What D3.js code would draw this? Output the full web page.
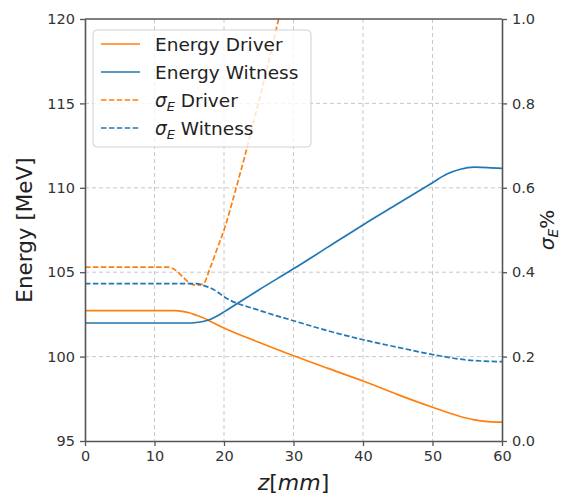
<!DOCTYPE html>
<html>
<head>
<meta charset="utf-8">
<script src="https://cdn.jsdelivr.net/npm/d3@7"></script>
<style>
  body { margin: 0; background: #fff; }
  svg text { font-family: "DejaVu Sans", sans-serif; }
</style>
</head>
<body>
<svg id="chart" width="564" height="495"></svg>
<script>
// values
const zDriver = [0, 13, 14, 15, 16, 17, 18, 20, 25, 30, 35, 40, 45, 50, 54, 56, 58, 60];
const energyDriver = [102.72, 102.72, 102.68, 102.6, 102.45, 102.3, 102.1, 101.7, 100.85, 100.05, 99.3, 98.55, 97.75, 97.0, 96.45, 96.25, 96.15, 96.12];

const zWitness = [0, 15, 16, 17, 18, 19, 20, 25, 30, 35, 40, 45, 50, 52, 54, 56, 58, 60];
const energyWitness = [101.99, 101.99, 102.02, 102.08, 102.2, 102.4, 102.65, 103.95, 105.2, 106.5, 107.8, 109.05, 110.3, 110.8, 111.1, 111.22, 111.2, 111.15];

const zSigmaDriver = [0, 12, 13, 14, 15, 16, 17, 18, 19, 20, 21, 22, 23, 24, 25, 26, 27, 28];
const sigmaDriver = [0.412, 0.412, 0.405, 0.39, 0.375, 0.369, 0.372, 0.41, 0.455, 0.50, 0.555, 0.615, 0.675, 0.74, 0.805, 0.87, 0.94, 1.01];

const zSigmaWitness = [0, 16, 17, 18, 19, 20, 25, 30, 35, 40, 45, 50, 55, 60];
const sigmaWitness = [0.373, 0.373, 0.369, 0.363, 0.354, 0.342, 0.31, 0.285, 0.261, 0.24, 0.222, 0.205, 0.192, 0.188];

const xTicks = [0, 10, 20, 30, 40, 50, 60];
const yTicks = [95, 100, 105, 110, 115, 120];
const y2Ticks = [0.0, 0.2, 0.4, 0.6, 0.8, 1.0];

const orange = "#ff7f0e", blue = "#1f77b4";

const margin = {top: 19, right: 62, bottom: 54, left: 85},
    width = 564 - margin.left - margin.right,
    height = 495 - margin.top - margin.bottom;

const svg = d3.select("#chart");

const g = svg.append("g")
    .attr("transform", "translate(" + margin.left + "," + margin.top + ")");

const x = d3.scaleLinear().domain([0, 60]).range([0, width]);
const y = d3.scaleLinear().domain([95, 120]).range([height, 0]);
const y2 = d3.scaleLinear().domain([0, 1]).range([height, 0]);

// grid
g.append("g").selectAll("line.gx")
    .data(xTicks.slice(1, -1))
    .enter().append("line")
    .attr("x1", d => x(d)).attr("x2", d => x(d))
    .attr("y1", 0).attr("y2", height)
    .attr("stroke", "#c8c8c8").attr("stroke-width", 1).attr("stroke-dasharray", "4,3");

g.append("g").selectAll("line.gy")
    .data(yTicks.slice(1, -1))
    .enter().append("line")
    .attr("x1", 0).attr("x2", width)
    .attr("y1", d => y(d)).attr("y2", d => y(d))
    .attr("stroke", "#c8c8c8").attr("stroke-width", 1).attr("stroke-dasharray", "4,3");

// clip
svg.append("defs").append("clipPath").attr("id", "plotclip")
    .append("rect").attr("width", width).attr("height", height);

const lines = g.append("g").attr("clip-path", "url(#plotclip)");

const lineE = d3.line().curve(d3.curveMonotoneX).x(d => x(d[0])).y(d => y(d[1]));
const lineS = d3.line().curve(d3.curveMonotoneX).x(d => x(d[0])).y(d => y2(d[1]));

lines.append("path")
    .datum(d3.zip(zDriver, energyDriver))
    .attr("d", lineE).attr("fill", "none").attr("stroke", orange).attr("stroke-width", 1.7);

lines.append("path")
    .datum(d3.zip(zWitness, energyWitness))
    .attr("d", lineE).attr("fill", "none").attr("stroke", blue).attr("stroke-width", 1.7);

lines.append("path")
    .datum(d3.zip(zSigmaDriver, sigmaDriver))
    .attr("d", lineS).attr("fill", "none").attr("stroke", orange).attr("stroke-width", 1.7)
    .attr("stroke-dasharray", "5.5,2.4");

lines.append("path")
    .datum(d3.zip(zSigmaWitness, sigmaWitness))
    .attr("d", lineS).attr("fill", "none").attr("stroke", blue).attr("stroke-width", 1.7)
    .attr("stroke-dasharray", "5.5,2.4");

// axes
const axisColor = "#555";
const bottomAxis = g.append("g")
    .attr("transform", "translate(0," + height + ")")
    .call(d3.axisBottom(x).tickValues(xTicks).tickSize(5).tickPadding(5).tickSizeOuter(0));
const leftAxis = g.append("g")
    .call(d3.axisLeft(y).tickValues(yTicks).tickSize(5).tickPadding(5).tickSizeOuter(0));
const rightAxis = g.append("g")
    .attr("transform", "translate(" + width + ",0)")
    .call(d3.axisRight(y2).tickValues(y2Ticks).tickFormat(d3.format(".1f")).tickSize(5).tickPadding(5).tickSizeOuter(0));

[bottomAxis, leftAxis, rightAxis].forEach(function(a) {
    a.selectAll("path").attr("stroke", axisColor).attr("stroke-width", 1.6);
    a.selectAll("line").attr("stroke", axisColor).attr("stroke-width", 1.3);
    a.selectAll("text").attr("fill", "#333").style("font-size", "14.5px")
        .style("font-family", "'DejaVu Sans', sans-serif");
});

// top spine
g.append("line").attr("x1", 0).attr("x2", width).attr("y1", 0).attr("y2", 0)
    .attr("stroke", axisColor).attr("stroke-width", 1.6);

// axis labels
svg.append("text")
    .attr("transform", "translate(32," + (margin.top + height / 2) + ") rotate(-90)")
    .attr("text-anchor", "middle")
    .attr("fill", "#222")
    .style("font-size", "21.5px")
    .text("Energy [MeV]");

const xl = svg.append("text")
    .attr("x", margin.left + width / 2)
    .attr("y", 490)
    .attr("text-anchor", "middle")
    .attr("fill", "#222")
    .style("font-size", "22px")
    .style("font-style", "italic");
xl.append("tspan").text("z");
xl.append("tspan").style("font-style", "normal").text("[");
xl.append("tspan").text("mm");
xl.append("tspan").style("font-style", "normal").text("]");

const yl2 = svg.append("text")
    .attr("transform", "translate(554," + (margin.top + height / 2) + ") rotate(-90)")
    .attr("text-anchor", "middle")
    .attr("fill", "#222")
    .style("font-size", "20px");
yl2.append("tspan").style("font-style", "italic").text("σ");
yl2.append("tspan").style("font-style", "italic").style("font-size", "14px").attr("dy", 4).text("E");
yl2.append("tspan").attr("dy", -4).text("%");

// legend
const legendItems = [
    {label: "Energy Driver", color: orange, dash: null, sigma: false},
    {label: "Energy Witness", color: blue, dash: null, sigma: false},
    {label: " Driver", color: orange, dash: "5.5,2.4", sigma: true},
    {label: " Witness", color: blue, dash: "5.5,2.4", sigma: true}
];

const legend = svg.append("g").attr("transform", "translate(93,30)");
legend.append("rect")
    .attr("width", 218).attr("height", 117).attr("rx", 4)
    .attr("fill", "#fff").attr("fill-opacity", 0.8)
    .attr("stroke", "#d0d0d0").attr("stroke-width", 1);

const item = legend.selectAll("g.item")
    .data(legendItems)
    .enter().append("g")
    .attr("class", "item")
    .attr("transform", (d, i) => "translate(0," + (14 + i * 28) + ")");

item.append("line")
    .attr("x1", 8).attr("x2", 47).attr("y1", 0).attr("y2", 0)
    .attr("stroke", d => d.color).attr("stroke-width", 1.7)
    .attr("stroke-dasharray", d => d.dash);

const itemText = item.append("text")
    .attr("x", 62).attr("y", 6.5)
    .attr("fill", "#222")
    .style("font-size", "18.5px");

itemText.each(function(d) {
    const t = d3.select(this);
    if (d.sigma) {
        t.append("tspan").style("font-style", "italic").text("σ");
        t.append("tspan").style("font-style", "italic").style("font-size", "13px").attr("dy", 4).text("E");
        t.append("tspan").attr("dy", -4).text(d.label);
    } else {
        t.text(d.label);
    }
});
</script>
</body>
</html>
